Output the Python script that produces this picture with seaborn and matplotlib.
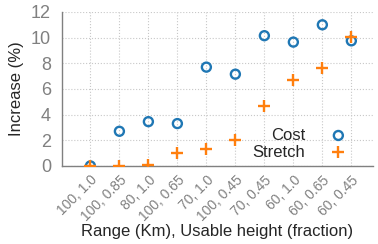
import matplotlib
matplotlib.use('Agg')
import matplotlib.pyplot as plt
import pandas as pd
import seaborn as sns

# config labels (range km, usable height fraction)
configs = ['100, 1.0', '100, 0.85', '80, 1.0', '100, 0.65', '70, 1.0',
           '100, 0.45', '70, 0.45', '60, 1.0', '60, 0.65', '60, 0.45']
cost = [0.0, 2.7, 3.45, 3.3, 7.7, 7.15, 10.15, 9.65, 11.0, 9.75]
stretch = [0.0, 0.0, 0.05, 1.0, 1.35, 2.0, 4.7, 6.7, 7.6, 10.05]

GRAY = '#808080'
BLUE = '#1f77b4'
ORANGE = '#ff7f0e'

df = pd.DataFrame({'config': configs, 'Cost': cost, 'Stretch': stretch})

sns.set_style('white')
plt.rcParams['font.family'] = ['Liberation Sans', 'DejaVu Sans']

fig = plt.figure(figsize=(3.78, 2.44), dpi=100)
ax = fig.add_axes([0.164, 0.32, 0.823, 0.631])

sns.scatterplot(data=df, x='config', y='Cost', marker='o', s=42,
                facecolor='none', edgecolor=BLUE, linewidth=1.7,
                ax=ax, label='Cost', zorder=3)
sns.scatterplot(data=df, x='config', y='Stretch', marker='+', s=75,
                color=ORANGE, linewidth=1.7, ax=ax, label='Stretch', zorder=4)

ax.set_xlim(-0.98, 9.75)
ax.set_ylim(0, 12)
ax.set_yticks(range(0, 13, 2))

ax.grid(True, linestyle=':', color='#c8c8c8', linewidth=0.8)
ax.set_axisbelow(True)
for side in ['top', 'right']:
    ax.spines[side].set_visible(False)
for side in ['left', 'bottom']:
    ax.spines[side].set_color(GRAY)
    ax.spines[side].set_linewidth(1.0)

ax.tick_params(axis='both', direction='in', length=4, color=GRAY,
               labelcolor=GRAY)
ax.tick_params(axis='y', labelsize=13, pad=8)
ax.tick_params(axis='x', labelsize=10, pad=5)
plt.setp(ax.get_xticklabels(), rotation=45, ha='right',
         rotation_mode='anchor')

ax.set_xlabel('Range (Km), Usable height (fraction)', fontsize=12, labelpad=0)
ax.set_ylabel('Increase (%)', fontsize=12, labelpad=5)

ax.legend(loc='lower right', bbox_to_anchor=(0.958, -0.045), frameon=False,
          markerfirst=False, fontsize=12, handlelength=1.0,
          handletextpad=1.5, labelspacing=0.1, borderpad=0.3)

fig.savefig('out.png', dpi=100)
